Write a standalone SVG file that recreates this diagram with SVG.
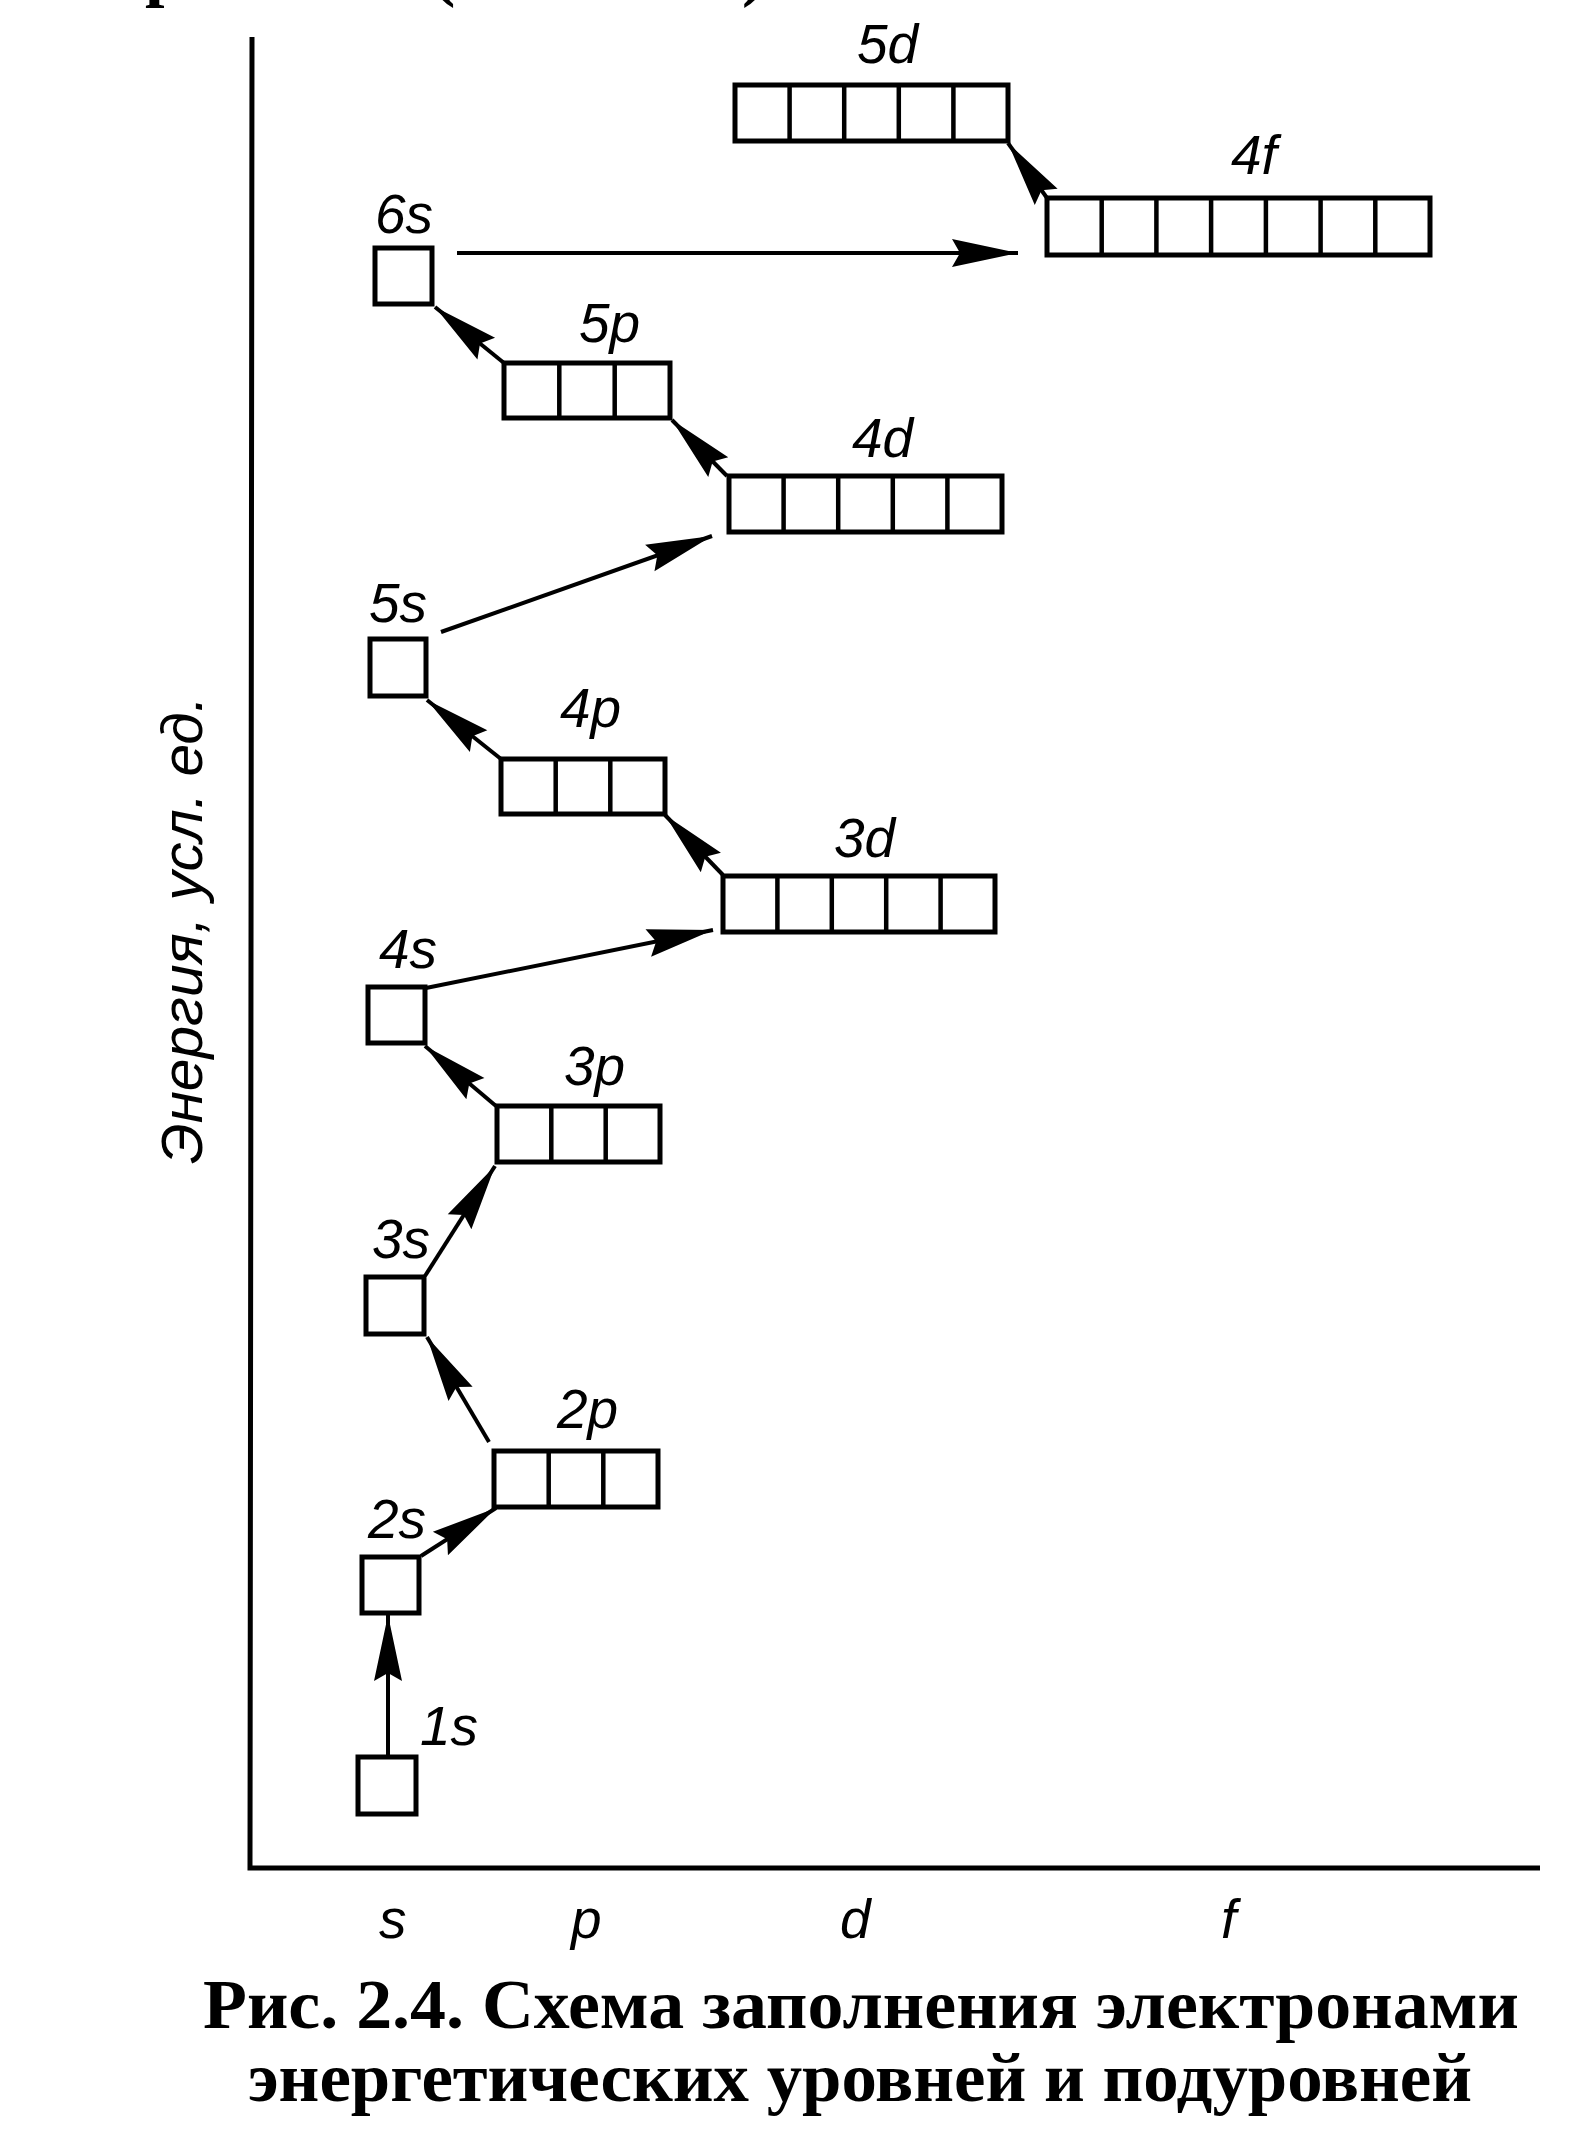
<svg xmlns="http://www.w3.org/2000/svg" width="1590" height="2152" viewBox="0 0 1590 2152">
<style>
.box{fill:#fff;stroke:#000;stroke-width:5}
.div{stroke:#000;stroke-width:4.5}
.lbl{font-family:"Liberation Sans",Arial,sans-serif;font-style:italic;font-size:55px;fill:#000}
.con{stroke:#000;stroke-width:4;fill:none;marker-end:url(#ah)}
.axis{stroke:#000;stroke-width:5;fill:none}
.cap{font-family:"Liberation Serif","Times New Roman",serif;font-weight:bold;font-size:70px;fill:#000}
.ylbl{font-family:"Liberation Sans",Arial,sans-serif;font-style:italic;font-size:58px;fill:#000}
</style>
<defs>
<marker id="ah" markerUnits="userSpaceOnUse" markerWidth="74" markerHeight="34" viewBox="-70 -17 74 34" refX="0" refY="0" orient="auto">
<path d="M0,0 L-66,-14 L-58,0 L-66,14 Z" fill="#000"/>
</marker>
</defs>
<rect width="1590" height="2152" fill="#fff"/>
<g id="page-fragments">
<text class="cap" x="145" y="-7">р</text>
<text class="cap" x="432" y="-7">(</text>
<text class="cap" x="742" y="-7">)</text>
</g>
<g id="axes">
<path class="axis" d="M252,37 L250,1868 L1540,1868"/>
<text class="ylbl" transform="translate(202,1164) rotate(-90)" textLength="468" lengthAdjust="spacingAndGlyphs">Энергия, усл. ед.</text>
<text class="lbl" x="379" y="1938">s</text>
<text class="lbl" x="571" y="1938">p</text>
<text class="lbl" x="840" y="1938">d</text>
<text class="lbl" x="1221" y="1938">f</text>
</g>
<g id="connectors">
<line class="con" x1="388" y1="1757" x2="388" y2="1615"/>
<line class="con" x1="421" y1="1556" x2="496" y2="1508"/>
<line class="con" x1="489" y1="1442" x2="427" y2="1337"/>
<line class="con" x1="425" y1="1276" x2="495" y2="1166"/>
<line class="con" x1="496" y1="1106" x2="425" y2="1046"/>
<line class="con" x1="426" y1="988" x2="713" y2="930"/>
<line class="con" x1="723" y1="875" x2="665" y2="815"/>
<line class="con" x1="501" y1="759" x2="427" y2="700"/>
<line class="con" x1="441" y1="632" x2="712" y2="536"/>
<line class="con" x1="727" y1="476" x2="672" y2="420"/>
<line class="con" x1="504" y1="363" x2="435" y2="307"/>
<line class="con" x1="457" y1="253" x2="1018" y2="253"/>
<line class="con" x1="1047" y1="198" x2="1008" y2="143"/>
</g>
<g id="n1s"><rect class="box" x="358" y="1757" width="58" height="57"/><text class="lbl" x="420" y="1745">1s</text></g>
<g id="n2s"><rect class="box" x="362" y="1557" width="57" height="56"/><text class="lbl" x="368" y="1538">2s</text></g>
<g id="n2p"><rect class="box" x="494" y="1451" width="164" height="56"/><path class="div" d="M548.7,1451V1507M603.3,1451V1507"/><text class="lbl" x="557" y="1428">2p</text></g>
<g id="n3s"><rect class="box" x="366" y="1277" width="58" height="57"/><text class="lbl" x="372" y="1258">3s</text></g>
<g id="n3p"><rect class="box" x="497" y="1106" width="163" height="56"/><path class="div" d="M551.3,1106V1162M605.7,1106V1162"/><text class="lbl" x="564" y="1085">3p</text></g>
<g id="n4s"><rect class="box" x="368" y="987" width="57" height="56"/><text class="lbl" x="379" y="968">4s</text></g>
<g id="n3d"><rect class="box" x="723" y="876" width="272" height="56"/><path class="div" d="M777.4,876V932M831.8,876V932M886.2,876V932M940.6,876V932"/><text class="lbl" x="834" y="857">3d</text></g>
<g id="n4p"><rect class="box" x="501" y="759" width="164" height="55"/><path class="div" d="M555.7,759V814M610.3,759V814"/><text class="lbl" x="560" y="727">4p</text></g>
<g id="n5s"><rect class="box" x="370" y="639" width="56" height="57"/><text class="lbl" x="369" y="622">5s</text></g>
<g id="n4d"><rect class="box" x="729" y="476" width="273" height="56"/><path class="div" d="M783.6,476V532M838.2,476V532M892.8,476V532M947.4,476V532"/><text class="lbl" x="852" y="457">4d</text></g>
<g id="n5p"><rect class="box" x="504" y="363" width="166" height="55"/><path class="div" d="M559.3,363V418M614.7,363V418"/><text class="lbl" x="579" y="342">5p</text></g>
<g id="n6s"><rect class="box" x="375" y="248" width="57" height="56"/><text class="lbl" x="375" y="233">6s</text></g>
<g id="n5d"><rect class="box" x="735" y="85" width="273" height="56"/><path class="div" d="M789.6,85V141M844.2,85V141M898.8,85V141M953.4,85V141"/><text class="lbl" x="857" y="63">5d</text></g>
<g id="n4f"><rect class="box" x="1047" y="198" width="383" height="57"/><path class="div" d="M1101.7,198V255M1156.4,198V255M1211.1,198V255M1265.9,198V255M1320.6,198V255M1375.3,198V255"/><text class="lbl" x="1231" y="174">4f</text></g>
<g id="caption">
<text class="cap" x="861" y="2028" text-anchor="middle" textLength="1316" lengthAdjust="spacingAndGlyphs">Рис. 2.4. Схема заполнения электронами</text>
<text class="cap" x="860" y="2101" text-anchor="middle" textLength="1224" lengthAdjust="spacingAndGlyphs">энергетических уровней и подуровней</text>
</g>
</svg>
